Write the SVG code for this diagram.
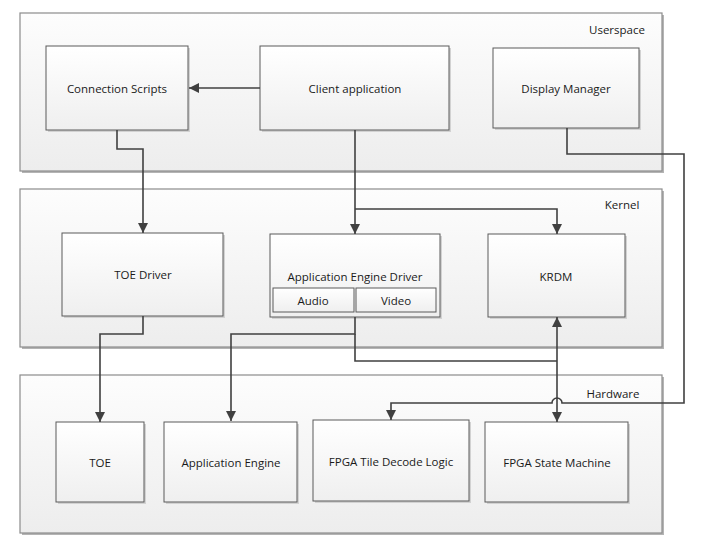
<svg xmlns="http://www.w3.org/2000/svg" width="711" height="541" viewBox="0 0 711 541">
  <defs>
    <linearGradient id="gLayer" x1="0" y1="0" x2="0" y2="1">
      <stop offset="0" stop-color="#fdfdfd"/>
      <stop offset="1" stop-color="#ededed"/>
    </linearGradient>
    <linearGradient id="gBox" x1="0" y1="0" x2="0" y2="1">
      <stop offset="0" stop-color="#ffffff"/>
      <stop offset="1" stop-color="#efefef"/>
    </linearGradient>
    <marker id="arrow" viewBox="0 0 10 10" refX="10" refY="5" markerWidth="10" markerHeight="10" markerUnits="userSpaceOnUse" orient="auto">
      <path d="M0,0 L10,5 L0,10 z" fill="#404040"/>
    </marker>
  </defs>
  <style>
    .layer { fill: url(#gLayer); stroke: #8c8c8c; stroke-width: 1.2; }
    .layer-shadow { fill: #b4b4b4; }
    .box { fill: url(#gBox); stroke: #5a5a5a; stroke-width: 1; }
    .shadow { fill: #d2d2d2; }
    .label { font-family: "Open Sans", "Noto Sans", "DejaVu Sans", sans-serif; font-size: 11.5px; fill: #1a1a1a; text-anchor: middle; dominant-baseline: central; }
    .wire { fill: none; stroke: #404040; stroke-width: 1.6; }
  </style>

  <rect width="711" height="541" fill="#ffffff"/>

  <!-- Layer containers -->
  <g id="userspace">
    <rect class="layer-shadow" x="22" y="15" width="642" height="158"/>
    <rect class="layer" x="20" y="13" width="642" height="158"/>
    <text class="label" x="617" y="29">Userspace</text>
  </g>
  <g id="kernel">
    <rect class="layer-shadow" x="22" y="191" width="642" height="158"/>
    <rect class="layer" x="20" y="189" width="642" height="158"/>
    <text class="label" x="622" y="204">Kernel</text>
  </g>
  <g id="hardware">
    <rect class="layer-shadow" x="22" y="377" width="642" height="158"/>
    <rect class="layer" x="20" y="375" width="642" height="158"/>
    <text class="label" x="613" y="393">Hardware</text>
  </g>

  <!-- Userspace components -->
  <g id="connection-scripts">
    <rect class="shadow" x="48" y="48" width="142" height="84"/>
    <rect class="box" x="46" y="46" width="142" height="84"/>
    <text class="label" x="117" y="88">Connection Scripts</text>
  </g>
  <g id="client-application">
    <rect class="shadow" x="262" y="48" width="189" height="84"/>
    <rect class="box" x="260" y="46" width="189" height="84"/>
    <text class="label" x="355" y="88">Client application</text>
  </g>
  <g id="display-manager">
    <rect class="shadow" x="495" y="50" width="146" height="80"/>
    <rect class="box" x="493" y="48" width="146" height="80"/>
    <text class="label" x="566" y="88">Display Manager</text>
  </g>

  <!-- Kernel components -->
  <g id="toe-driver">
    <rect class="shadow" x="64" y="235" width="161" height="83"/>
    <rect class="box" x="62" y="233" width="161" height="83"/>
    <text class="label" x="143" y="274">TOE Driver</text>
  </g>
  <g id="app-engine-driver">
    <rect class="shadow" x="272" y="236" width="170" height="83"/>
    <rect class="box" x="270" y="234" width="170" height="83"/>
    <text class="label" x="355" y="276">Application Engine Driver</text>
    <rect class="box" x="273" y="288" width="81" height="24"/>
    <text class="label" x="313" y="300">Audio</text>
    <rect class="box" x="356" y="288" width="80" height="24"/>
    <text class="label" x="396" y="300">Video</text>
  </g>
  <g id="krdm">
    <rect class="shadow" x="490" y="236" width="137" height="83"/>
    <rect class="box" x="488" y="234" width="137" height="83"/>
    <text class="label" x="556" y="276">KRDM</text>
  </g>

  <!-- Hardware components -->
  <g id="toe">
    <rect class="shadow" x="58" y="424" width="88" height="80"/>
    <rect class="box" x="56" y="422" width="88" height="80"/>
    <text class="label" x="100" y="462">TOE</text>
  </g>
  <g id="application-engine">
    <rect class="shadow" x="166" y="424" width="133" height="80"/>
    <rect class="box" x="164" y="422" width="133" height="80"/>
    <text class="label" x="231" y="462">Application Engine</text>
  </g>
  <g id="fpga-tile-decode">
    <rect class="shadow" x="315" y="422" width="156" height="81"/>
    <rect class="box" x="313" y="420" width="156" height="81"/>
    <text class="label" x="391" y="461">FPGA Tile Decode Logic</text>
  </g>
  <g id="fpga-state-machine">
    <rect class="shadow" x="487" y="424" width="143" height="80"/>
    <rect class="box" x="485" y="422" width="143" height="80"/>
    <text class="label" x="557" y="462">FPGA State Machine</text>
  </g>

  <!-- Connectors -->
  <g id="connectors">
    <!-- Client application to Connection Scripts -->
    <path class="wire" d="M260,88 H189" marker-end="url(#arrow)"/>
    <!-- Connection Scripts to TOE Driver -->
    <path class="wire" d="M117,130 V149 H143 V233" marker-end="url(#arrow)"/>
    <!-- Client application to Application Engine Driver -->
    <path class="wire" d="M355,130 V234" marker-end="url(#arrow)"/>
    <!-- Client application to KRDM -->
    <path class="wire" d="M355,209 H557 V234" marker-end="url(#arrow)"/>
    <!-- TOE Driver to TOE -->
    <path class="wire" d="M143,316 V334 H100 V422" marker-end="url(#arrow)"/>
    <!-- Application Engine Driver to Application Engine -->
    <path class="wire" d="M355,317 V334 H231 V421" marker-end="url(#arrow)"/>
    <!-- Application Engine Driver to the KRDM / state machine link -->
    <path class="wire" d="M355,334 V361 H557"/>
    <!-- KRDM to FPGA State Machine, both directions -->
    <path class="wire" d="M557,400 V317" marker-end="url(#arrow)"/>
    <path class="wire" d="M557,400 V422" marker-end="url(#arrow)"/>
    <!-- Display Manager to FPGA Tile Decode Logic, hopping over the vertical link -->
    <path class="wire" d="M567,128 V154 H684 V403 H562 A5,5 0 0 0 552,403 H391 V420" marker-end="url(#arrow)"/>
  </g>
</svg>
